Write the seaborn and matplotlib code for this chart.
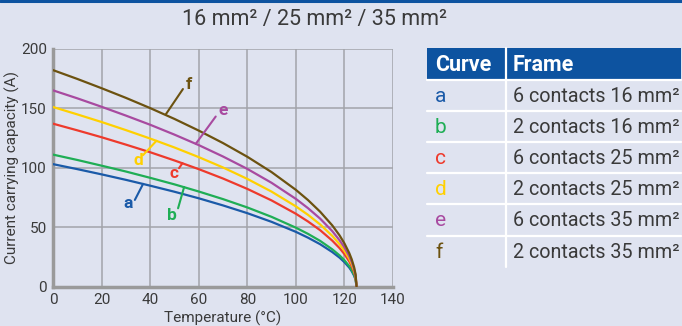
import matplotlib
matplotlib.use("Agg")
import matplotlib.pyplot as plt
from matplotlib import font_manager
from matplotlib.ticker import MultipleLocator
from matplotlib.patches import Rectangle
from matplotlib.lines import Line2D
import seaborn as sns
import pandas as pd

# values (current in A vs temperature in °C)
temps = [0, 10, 20, 30, 40, 50, 60, 70, 80, 90, 100, 105, 110, 115, 118, 120, 122, 123, 124, 124.6, 125]
curve_a = [103, 98.8, 94.4, 89.8, 84.9, 79.8, 74.3, 68.3, 61.8, 54.5, 46.1, 41.2, 35.7, 29.1, 24.4, 20.6, 16.0, 13.0, 9.2, 5.8, 0]
curve_b = [111, 106.5, 101.7, 96.8, 91.5, 86.0, 80.0, 73.6, 66.6, 58.7, 49.6, 44.4, 38.5, 31.4, 26.3, 22.2, 17.2, 14.0, 9.9, 6.3, 0]
curve_c = [137, 131.4, 125.6, 119.4, 113.0, 106.1, 98.8, 90.9, 82.2, 72.5, 61.3, 54.8, 47.5, 38.7, 32.4, 27.4, 21.2, 17.3, 12.2, 7.8, 0]
curve_d = [151, 144.8, 138.4, 131.6, 124.5, 117.0, 108.9, 100.2, 90.6, 79.9, 67.5, 60.4, 52.3, 42.7, 35.7, 30.2, 23.4, 19.1, 13.5, 8.5, 0]
curve_e = [165, 158.3, 151.2, 143.8, 136.1, 127.8, 119.0, 109.4, 99.0, 87.3, 73.8, 66.0, 57.2, 46.7, 39.0, 33.0, 25.6, 20.9, 14.8, 9.3, 0]
curve_f = [182, 174.6, 166.8, 158.7, 150.1, 141.0, 131.2, 120.7, 109.2, 96.3, 81.4, 72.8, 63.0, 51.5, 43.1, 36.4, 28.2, 23.0, 16.3, 10.3, 0]

curve_names = ["a", "b", "c", "d", "e", "f"]
frame_labels = ["6 contacts 16 mm²", "2 contacts 16 mm²", "6 contacts 25 mm²",
                "2 contacts 25 mm²", "6 contacts 35 mm²", "2 contacts 35 mm²"]
colors = ["#1a5aa8", "#1fae55", "#ee3a2c", "#ffd000", "#a84aa0", "#6c5210"]

bg = "#dfe3f0"
blue = "#0d53a0"
txt = "#3a3a3a"

sns.set_style("white")
avail = {f.name for f in font_manager.fontManager.ttflist}
narrow = "Liberation Sans Narrow" if "Liberation Sans Narrow" in avail else "Roboto"
plt.rcParams["font.family"] = [narrow, "DejaVu Sans"]

df = pd.concat([
    pd.DataFrame({"temp": temps, "current": vals, "curve": name})
    for name, vals in zip(curve_names, [curve_a, curve_b, curve_c, curve_d, curve_e, curve_f])
])

fig = plt.figure(figsize=(6.82, 3.26), dpi=100, facecolor=bg)
ax = fig.add_axes([53 / 682, 1 - 286.7 / 326, 340 / 682, 238 / 326])
ax.set_facecolor(bg)

sns.lineplot(data=df, x="temp", y="current", hue="curve", palette=dict(zip(curve_names, colors)),
             estimator=None, sort=False, legend=False, linewidth=1.6, ax=ax, zorder=3)

ax.set_xlim(0, 140)
ax.set_ylim(0, 200)
ax.xaxis.set_major_locator(MultipleLocator(20))
ax.xaxis.set_minor_locator(MultipleLocator(10))
ax.yaxis.set_major_locator(MultipleLocator(50))
ax.yaxis.set_minor_locator(MultipleLocator(25))
ax.grid(True, which="major", color="#a2a4aa", linewidth=1.1)
ax.tick_params(which="major", length=0, labelsize=11, labelcolor=txt, pad=4.5)
ax.tick_params(which="minor", length=4, width=1, color="#999999", direction="out")
for s in ["top", "right"]:
    ax.spines[s].set_visible(False)
for s in ["left", "bottom"]:
    ax.spines[s].set_color("#9a9a9a")
    ax.spines[s].set_linewidth(2.5)
ax.set_xlabel("Temperature (°C)", fontsize=11, color=txt)
ax.set_ylabel("Current carrying capacity (A)", fontsize=11, color=txt)
ax.xaxis.set_label_coords(0.5, -0.1)
ax.yaxis.set_label_coords(-0.098, 0.5)

# leader lines with curve letters
leaders = {
    "f": ((46.5, 145.0), (53.5, 166.1), (55.8, 170.0)),
    "e": ((58.8, 120.1), (67.0, 143.0), (70.0, 148.0)),
    "d": ((42.6, 122.6), (37.1, 110.6), (35.0, 106.0)),
    "c": ((53.3, 103.8), (51.9, 99.6), (49.8, 95.0)),
    "a": ((37.1, 86.4), (33.7, 72.9), (31.0, 69.5)),
    "b": ((54.0, 83.8), (51.5, 65.9), (49.0, 59.5)),
}
for name, col in zip(curve_names, colors):
    (x0, y0), (x1, y1), (lx, ly) = leaders[name]
    ax.plot([x0, x1], [y0, y1], color=col, linewidth=1.5, zorder=4)
    ax.text(lx, ly, name, color=col, fontsize=12.5, fontweight="bold", ha="center", va="center", zorder=4)

# title and top rule
fig.text(315 / 682, 1 - 19 / 326, "16 mm² / 25 mm² / 35 mm²", fontsize=15.5, color=txt,
         ha="center", va="center")
fig.add_artist(Line2D([0, 1], [1 - 1 / 326, 1 - 1 / 326], color=blue, linewidth=2.2))

# table drawn in pixel coordinates
tab = fig.add_axes([0, 0, 1, 1])
tab.set_xlim(0, 682)
tab.set_ylim(326, 0)
tab.axis("off")
tab.patch.set_alpha(0)
left, split, right = 427, 505.5, 681
top, head_bot, row_h = 48, 79.5, 31.2
tab.add_patch(Rectangle((left, top), right - left, head_bot - top, color=blue, lw=0))
tab.text(435, (top + head_bot) / 2 + 1, "Curve", color="white", fontsize=15.5, fontweight="bold", va="center")
tab.text(513, (top + head_bot) / 2 + 1, "Frame", color="white", fontsize=15.5, fontweight="bold", va="center")
for i, (name, label, col) in enumerate(zip(curve_names, frame_labels, colors)):
    y0 = head_bot + i * row_h
    tab.plot([left, right], [y0, y0], color="white", linewidth=1.6)
    tab.text(435, y0 + row_h / 2 + 1, name, color=col, fontsize=15, va="center")
    tab.text(513, y0 + row_h / 2 + 1, label, color=txt, fontsize=14.2, va="center")
tab.plot([split, split], [top, head_bot + 6 * row_h], color="white", linewidth=1.6)

fig.savefig("out.png", dpi=100, facecolor=bg)
